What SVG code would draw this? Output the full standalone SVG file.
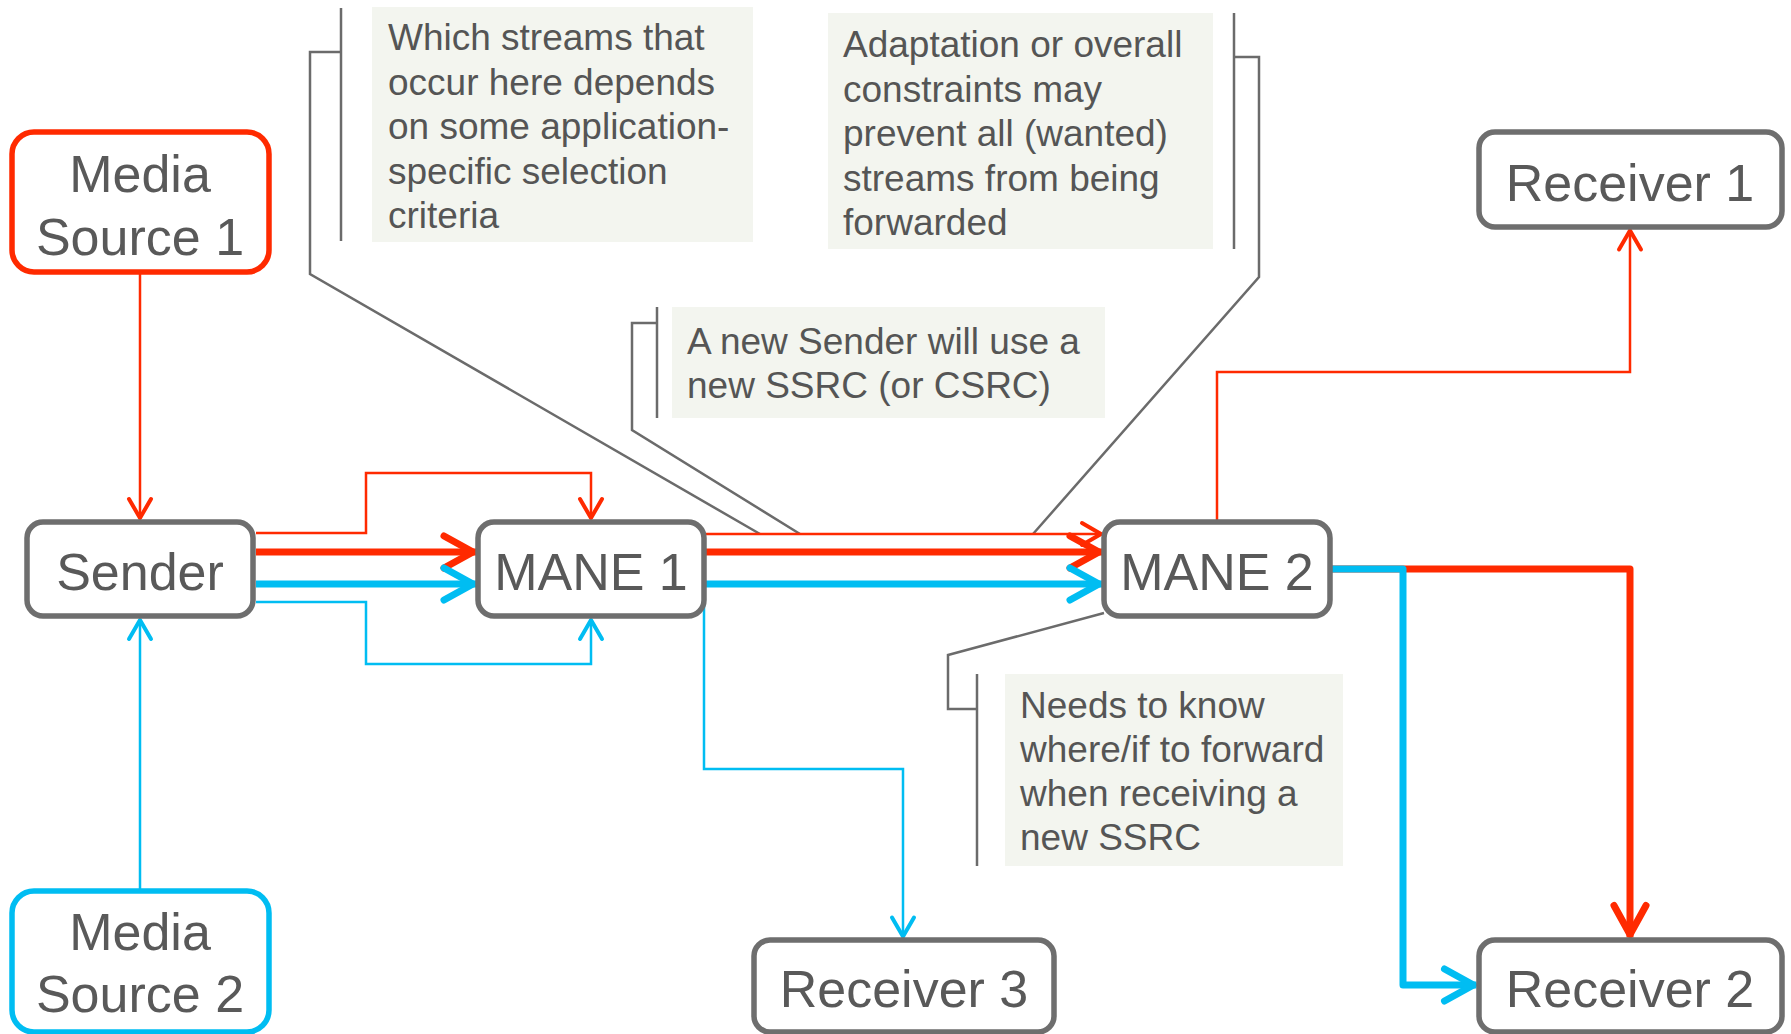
<svg xmlns="http://www.w3.org/2000/svg" width="1791" height="1034" viewBox="0 0 1791 1034">
<style>
.node{fill:#fff;stroke:#6e6e6e;stroke-width:5.5}
.lbl{font-family:"Liberation Sans",Arial,sans-serif;font-size:52px;fill:#595959;text-anchor:middle}
.note{fill:#f3f5ef}
.ntxt{font-family:"Liberation Sans",Arial,sans-serif;font-size:37px;fill:#555}
.lead{fill:none;stroke:#6b6b6b;stroke-width:2.5}
.rt{fill:none;stroke:#ff2a00;stroke-width:2.5}
.bt{fill:none;stroke:#00bdf2;stroke-width:2.5}
.rT{fill:none;stroke:#ff2a00;stroke-width:7;stroke-linejoin:round}
.bT{fill:none;stroke:#00bdf2;stroke-width:7;stroke-linejoin:round}
.mk{fill:none;stroke-linecap:round;stroke-linejoin:round}
</style>
<defs>
<marker id="ar" markerUnits="userSpaceOnUse" markerWidth="40" markerHeight="40" viewBox="-30 -20 40 40" refX="0" refY="0" orient="auto" overflow="visible"><path class="mk" d="M-20,-11 L-1,0 L-20,11" stroke="#ff2a00" stroke-width="4"/></marker>
<marker id="ab" markerUnits="userSpaceOnUse" markerWidth="40" markerHeight="40" viewBox="-30 -20 40 40" refX="0" refY="0" orient="auto" overflow="visible"><path class="mk" d="M-20,-11 L-1,0 L-20,11" stroke="#00bdf2" stroke-width="4"/></marker>
<marker id="aR" markerUnits="userSpaceOnUse" markerWidth="50" markerHeight="50" viewBox="-40 -25 50 50" refX="0" refY="0" orient="auto" overflow="visible"><path class="mk" d="M-32,-16 L-3,0 L-32,16" stroke="#ff2a00" stroke-width="7"/></marker>
<marker id="aB" markerUnits="userSpaceOnUse" markerWidth="50" markerHeight="50" viewBox="-40 -25 50 50" refX="0" refY="0" orient="auto" overflow="visible"><path class="mk" d="M-32,-16 L-3,0 L-32,16" stroke="#00bdf2" stroke-width="7"/></marker>
</defs>

<g id="note1">
<rect class="note" x="372" y="7" width="381" height="235"/>
<path class="lead" d="M341,8 V241"/>
<text class="ntxt" x="388" y="50">Which streams that</text>
<text class="ntxt" x="388" y="94.5">occur here depends</text>
<text class="ntxt" x="388" y="139">on some application-</text>
<text class="ntxt" x="388" y="183.5">specific selection</text>
<text class="ntxt" x="388" y="228">criteria</text>
</g>
<g id="note2">
<rect class="note" x="828" y="13" width="385" height="236"/>
<path class="lead" d="M1234,13 V249"/>
<text class="ntxt" x="843" y="57">Adaptation or overall</text>
<text class="ntxt" x="843" y="101.5">constraints may</text>
<text class="ntxt" x="843" y="146">prevent all (wanted)</text>
<text class="ntxt" x="843" y="190.5">streams from being</text>
<text class="ntxt" x="843" y="235">forwarded</text>
</g>
<g id="note3">
<rect class="note" x="672" y="307" width="433" height="111"/>
<path class="lead" d="M657,307 V418"/>
<text class="ntxt" x="687" y="354">A new Sender will use a</text>
<text class="ntxt" x="687" y="398">new SSRC (or CSRC)</text>
</g>
<g id="note4">
<rect class="note" x="1005" y="674" width="338" height="192"/>
<path class="lead" d="M977,674 V866"/>
<text class="ntxt" x="1020" y="718">Needs to know</text>
<text class="ntxt" x="1020" y="762">where/if to forward</text>
<text class="ntxt" x="1020" y="806">when receiving a</text>
<text class="ntxt" x="1020" y="850">new SSRC</text>
</g>

<g id="connectors">
<path class="lead" d="M341,52 H310 V274 L760,534"/>
<path class="lead" d="M1234,57 H1259 V277 L1033,534"/>
<path class="lead" d="M657,323 H632 V430 L800,534"/>
<path class="lead" d="M977,709 H948 V655 L1104,613"/>
<path class="rt" d="M140,272 V519" marker-end="url(#ar)"/>
<path class="bt" d="M140,891 V619" marker-end="url(#ab)"/>
<path class="rt" d="M256,533 H366 V473 H591 V519" marker-end="url(#ar)"/>
<path class="rT" d="M256,552 H476" marker-end="url(#aR)"/>
<path class="bT" d="M256,584 H476" marker-end="url(#aB)"/>
<path class="bt" d="M256,602 H366 V664 H591 V619" marker-end="url(#ab)"/>
<path class="rt" d="M706,534 H1102" marker-end="url(#ar)"/>
<path class="rT" d="M706,552 H1102" marker-end="url(#aR)"/>
<path class="bT" d="M706,584 H1102" marker-end="url(#aB)"/>
<path class="bt" d="M704,604 V769 H903 V937.5" marker-end="url(#ab)"/>
<path class="rt" d="M1217,520 V372 H1630 V229.5" marker-end="url(#ar)"/>
<path class="rT" d="M1332,569 H1630 V937.5" marker-end="url(#aR)"/>
<path class="bT" d="M1332,569 H1403 V985 H1476.5" marker-end="url(#aB)"/>
</g>

<g id="ms1">
<rect x="12" y="132" width="257" height="140" rx="22" fill="#fff" stroke="#ff2a00" stroke-width="5.5"/>
<text class="lbl" x="140" y="192">Media</text>
<text class="lbl" x="140" y="255">Source 1</text>
</g>
<g id="ms2">
<rect x="12" y="891" width="257" height="141" rx="22" fill="#fff" stroke="#00bdf2" stroke-width="5.5"/>
<text class="lbl" x="140" y="950">Media</text>
<text class="lbl" x="140" y="1012">Source 2</text>
</g>
<g id="sender">
<rect class="node" x="27" y="522" width="226" height="94" rx="16"/>
<text class="lbl" x="140" y="590">Sender</text>
</g>
<g id="mane1">
<rect class="node" x="478" y="522" width="226" height="94" rx="16"/>
<text class="lbl" x="591" y="590">MANE 1</text>
</g>
<g id="mane2">
<rect class="node" x="1104" y="522" width="226" height="94" rx="16"/>
<text class="lbl" x="1217" y="590">MANE 2</text>
</g>
<g id="receiver1">
<rect class="node" x="1479" y="132" width="303" height="95" rx="16"/>
<text class="lbl" x="1630" y="201">Receiver 1</text>
</g>
<g id="receiver3">
<rect class="node" x="754" y="940" width="300" height="92" rx="16"/>
<text class="lbl" x="904" y="1007">Receiver 3</text>
</g>
<g id="receiver2">
<rect class="node" x="1479" y="940" width="303" height="92" rx="16"/>
<text class="lbl" x="1630" y="1007">Receiver 2</text>
</g>
</svg>
